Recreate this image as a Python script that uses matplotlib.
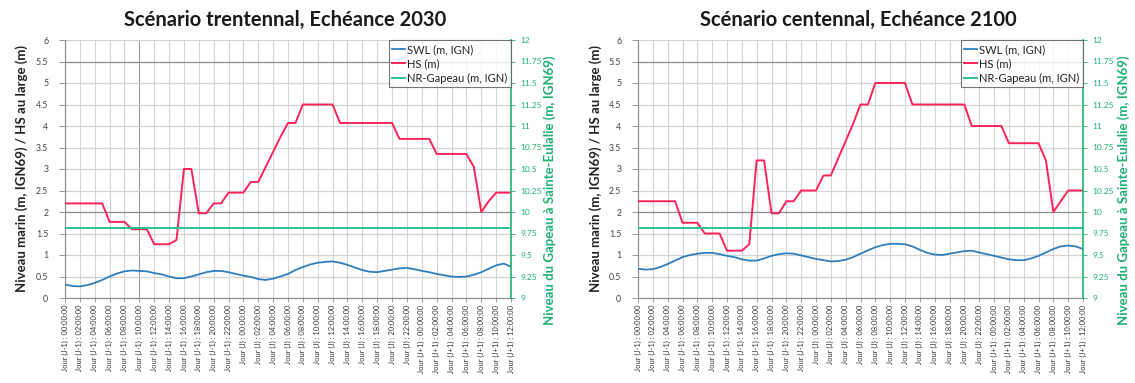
import matplotlib
matplotlib.use("Agg")
import matplotlib.pyplot as plt

plt.rcParams['font.family'] = ['Lato', 'DejaVu Sans']

# Hourly time steps from day J-1 00:00 to day J+1 12:00
hours = list(range(61))
tick_hours = list(range(0, 61, 2))
tick_labels = (
    [f"Jour (J-1) : {h:02d}:00:00" for h in range(0, 24, 2)]
    + [f"Jour (J) : {h:02d}:00:00" for h in range(0, 24, 2)]
    + [f"Jour (J+1) : {h:02d}:00:00" for h in range(0, 13, 2)]
)

# 30-year scenario, horizon 2030
swl_2030 = [0.31, 0.28, 0.27, 0.30, 0.35, 0.42, 0.50, 0.57, 0.62, 0.64,
            0.63, 0.62, 0.58, 0.55, 0.50, 0.46, 0.46, 0.50, 0.55, 0.60,
            0.63, 0.63, 0.60, 0.56, 0.52, 0.49, 0.44, 0.42, 0.45, 0.50,
            0.56, 0.65, 0.72, 0.78, 0.82, 0.84, 0.85, 0.82, 0.77, 0.71,
            0.65, 0.61, 0.60, 0.63, 0.66, 0.69, 0.70, 0.67, 0.63, 0.60,
            0.56, 0.53, 0.50, 0.49, 0.50, 0.54, 0.60, 0.68, 0.76, 0.80,
            0.73]
hs_2030 = [2.2, 2.2, 2.2, 2.2, 2.2, 2.2, 1.77, 1.77, 1.77, 1.6,
           1.6, 1.6, 1.25, 1.25, 1.25, 1.35, 3.0, 3.0, 1.97, 1.97,
           2.2, 2.2, 2.45, 2.45, 2.45, 2.7, 2.7, 3.05, 3.4, 3.75,
           4.07, 4.07, 4.5, 4.5, 4.5, 4.5, 4.5, 4.07, 4.07, 4.07,
           4.07, 4.07, 4.07, 4.07, 4.07, 3.7, 3.7, 3.7, 3.7, 3.7,
           3.35, 3.35, 3.35, 3.35, 3.35, 3.05, 2.0, 2.25, 2.45, 2.45,
           2.45]
gapeau_2030 = [9.81] * 61

# 100-year scenario, horizon 2100
swl_2100 = [0.68, 0.66, 0.67, 0.72, 0.79, 0.87, 0.95, 1.00, 1.03, 1.05,
            1.05, 1.02, 0.98, 0.95, 0.90, 0.87, 0.87, 0.92, 0.98, 1.02,
            1.04, 1.03, 0.99, 0.95, 0.91, 0.88, 0.85, 0.86, 0.89, 0.95,
            1.03, 1.11, 1.18, 1.23, 1.26, 1.26, 1.25, 1.20, 1.12, 1.05,
            1.01, 1.00, 1.03, 1.06, 1.09, 1.10, 1.06, 1.02, 0.98, 0.94,
            0.90, 0.88, 0.88, 0.92, 0.98, 1.06, 1.14, 1.20, 1.22, 1.20,
            1.14]
hs_2100 = [2.25, 2.25, 2.25, 2.25, 2.25, 2.25, 1.75, 1.75, 1.75, 1.5,
           1.5, 1.5, 1.1, 1.1, 1.1, 1.25, 3.2, 3.2, 1.97, 1.97,
           2.25, 2.25, 2.5, 2.5, 2.5, 2.85, 2.85, 3.25, 3.65, 4.05,
           4.5, 4.5, 5.0, 5.0, 5.0, 5.0, 5.0, 4.5, 4.5, 4.5,
           4.5, 4.5, 4.5, 4.5, 4.5, 4.0, 4.0, 4.0, 4.0, 4.0,
           3.6, 3.6, 3.6, 3.6, 3.6, 3.2, 2.0, 2.25, 2.5, 2.5,
           2.5]
gapeau_2100 = [9.81] * 61

titles = ["Scénario trentennal, Echéance 2030", "Scénario centennal, Echéance 2100"]
left_ticks = [0, 0.5, 1, 1.5, 2, 2.5, 3, 3.5, 4, 4.5, 5, 5.5, 6]
left_ticklabels = ["0", "0.5", "1", "1.5", "2", "2.5", "3", "3.5", "4", "4.5", "5", "5.5", "6"]
right_ticks = [9, 9.25, 9.5, 9.75, 10, 10.25, 10.5, 10.75, 11, 11.25, 11.5, 11.75, 12]
right_ticklabels = ["9", "9.25", "9.5", "9.75", "10", "10.25", "10.5", "10.75",
                    "11", "11.25", "11.5", "11.75", "12"]

C_SWL = "#2f7fbf"
C_HS = "#ff2457"
C_GAP = "#2cc38a"
C_AXIS_GREEN = "#1fb06f"
C_GRID = "#d4d4d4"
C_SPINE = "#8a8a8a"

W, H = 1135, 383
fig = plt.figure(figsize=(W / 100, H / 100), dpi=100)
fig.patch.set_facecolor("white")

panels = [
    dict(x0=65, x1=511, swl=swl_2030, hs=hs_2030, gap=gapeau_2030, title=titles[0],
         dark_v=[10], tx=285, lab_l=22, lab_r=550),
    dict(x0=638, x1=1083, swl=swl_2100, hs=hs_2100, gap=gapeau_2100, title=titles[1],
         dark_v=[], tx=858, lab_l=596, lab_r=1124),
]
y_top, y_bot = 40, 298

for p in panels:
    ax = fig.add_axes([p["x0"] / W, (H - y_bot) / H, (p["x1"] - p["x0"]) / W, (y_bot - y_top) / H])
    ax.set_xlim(0, 60)
    ax.set_ylim(0, 6)

    # grid
    for t in tick_hours:
        col = "#9a9a9a" if t in p["dark_v"] else C_GRID
        ax.axvline(t, color=col, lw=0.8, zorder=0)
    for v in left_ticks:
        col = "#8c8c8c" if v in (2, 5.5) else C_GRID
        ax.axhline(v, color=col, lw=0.9, zorder=0)

    l1, = ax.plot(hours, p["swl"], color=C_SWL, lw=1.3, zorder=3, label="SWL (m, IGN)")
    l2, = ax.plot(hours, p["hs"], color=C_HS, lw=1.4, zorder=3, label="HS (m)")

    ax2 = ax.twinx()
    ax2.set_ylim(9, 12)
    l3, = ax2.plot(hours, p["gap"], color=C_GAP, lw=1.4, zorder=3, label="NR-Gapeau (m, IGN)")

    ax.set_xticks(tick_hours)
    ax.set_xticklabels(tick_labels, rotation=90, fontsize=5.4, color="#333333")
    ax.set_yticks(left_ticks)
    ax.set_yticklabels(left_ticklabels, fontsize=6.3, color="#444444")
    ax.tick_params(axis="x", length=3, width=0.6, color=C_SPINE, pad=2)
    ax.tick_params(axis="y", length=4, width=0.6, color=C_SPINE, pad=8)

    ax2.set_yticks(right_ticks)
    ax2.set_yticklabels(right_ticklabels, fontsize=6.0, color=C_AXIS_GREEN)
    ax2.tick_params(axis="y", length=3, width=0.6, color=C_AXIS_GREEN, pad=4)

    for a in (ax, ax2):
        a.spines["top"].set_visible(False)
    ax.spines["left"].set_color(C_SPINE)
    ax.spines["bottom"].set_color(C_SPINE)
    ax.spines["right"].set_visible(False)
    ax2.spines["left"].set_visible(False)
    ax2.spines["bottom"].set_visible(False)
    ax2.spines["right"].set_color(C_AXIS_GREEN)
    ax2.spines["right"].set_linewidth(1.2)

    leg = ax2.legend(handles=[l1, l2, l3], loc="upper right", fontsize=8,
                     frameon=True, fancybox=False, handlelength=1.1, handletextpad=0.2,
                     borderpad=0.35, labelspacing=0.3, borderaxespad=0.0,
                     bbox_to_anchor=(1.0, 1.0))
    leg.get_frame().set_edgecolor("#555555")
    leg.get_frame().set_linewidth(0.8)
    for t in leg.get_texts():
        t.set_color("#222222")

    fig.text(p["tx"] / W, 1 - 20 / H, p["title"], ha="center", va="center",
             fontsize=14.5, fontweight="bold", color="#1a1a1a")
    fig.text(p["lab_l"] / W, 1 - 168 / H, "Niveau marin (m, IGN69) / HS au large (m)",
             rotation=90, ha="center", va="center", fontsize=9.5, fontweight="bold",
             color="#222222")
    fig.text(p["lab_r"] / W, 1 - 190 / H, "Niveau du Gapeau à Sainte-Eulalie (m, IGN69)",
             rotation=90, ha="center", va="center", fontsize=9.5, fontweight="bold",
             color=C_AXIS_GREEN)

fig.savefig("out.png", dpi=100, facecolor="white")
